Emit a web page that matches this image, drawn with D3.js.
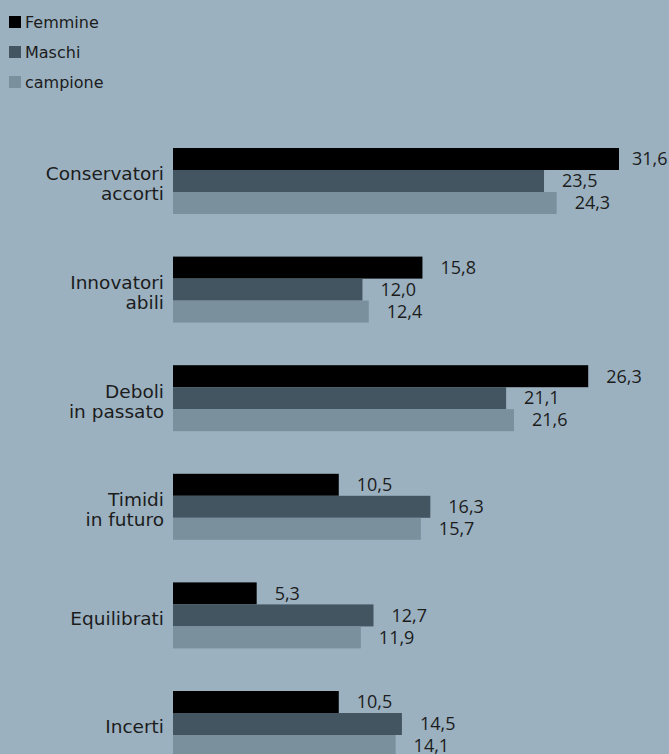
<!DOCTYPE html>
<html>
  <head>
    <meta charset="utf-8">
    <script src="https://d3js.org/d3.v7.min.js"></script>
    <style>
    html, body { margin: 0; padding: 0; background: #9bb1c0; }
    svg { display: block; font-family: "DejaVu Sans", sans-serif; }
    .lab { fill: #1c1c1c; }
    .val { fill: #1c1c1c; font-family: "Open Sans", sans-serif; font-size: 18px; }
    </style>
  </head>
  <body>
    <script>

        var categories = [["Conservatori", "accorti"], ["Innovatori", "abili"], ["Deboli", "in passato"],
                          ["Timidi", "in futuro"], ["Equilibrati"], ["Incerti"]];
        var series = ["Femmine", "Maschi", "campione"];
        var femmine  = [31.6, 15.8, 26.3, 10.5, 5.3, 10.5];
        var maschi   = [23.5, 12.0, 21.1, 16.3, 12.7, 14.5];
        var campione = [24.3, 12.4, 21.6, 15.7, 11.9, 14.1];
        var colors = ["#000000", "#435561", "#7b909d"];

        var width = 669,
            height = 754;

        var svg = d3.select("body").append("svg")
            .attr("width", width)
            .attr("height", height);

        var values = [femmine, maschi, campione];
        var fmt = function (v) { return d3.format(".1f")(v).replace(".", ","); };

        // scale is clamped: the longest bar stops short of the edge
        var x = d3.scaleLinear().domain([0, 28.25]).range([173, 619]).clamp(true);
        var step = 108.6, band = 66;
        var y0 = d3.scaleBand().domain(d3.range(categories.length))
            .range([148, 148 + step * (categories.length - 1) + band])
            .paddingInner(1 - band / step).paddingOuter(0);
        var y1 = d3.scaleBand().domain(d3.range(series.length)).range([0, y0.bandwidth()]);

        // legend
        var legend = svg.append("g").selectAll("g").data(series).enter().append("g")
            .attr("transform", function (d, i) { return "translate(9," + (16 + i * 30) + ")"; });
        legend.append("rect").attr("width", 12).attr("height", 12)
            .attr("fill", function (d, i) { return colors[i]; });
        legend.append("text").attr("class", "lab")
            .attr("x", 16).attr("y", 6).attr("dy", "0.35em")
            .style("font-size", "16px")
            .text(function (d) { return d; });

        var groups = svg.append("g").selectAll("g").data(categories).enter().append("g")
            .attr("transform", function (d, i) { return "translate(0," + y0(i) + ")"; });

        groups.each(function (cat, ci) {
            var g = d3.select(this);
            series.forEach(function (s, si) {
                var v = values[si][ci];
                g.append("rect")
                    .attr("x", x(0))
                    .attr("y", y1(si))
                    .attr("width", x(v) - x(0))
                    .attr("height", y1.bandwidth())
                    .attr("fill", colors[si]);
                g.append("text").attr("class", "val")
                    .attr("x", Math.min(x(v) + 18, 632))
                    .attr("y", y1(si) + y1.bandwidth() / 2)
                    .attr("dy", "0.35em")
                    .text(fmt(v));
            });
            var mid = y0.bandwidth() / 2;
            var t = g.append("text").attr("class", "lab")
                .attr("text-anchor", "end")
                .style("font-size", "18.5px");
            cat.forEach(function (line, li) {
                t.append("tspan")
                    .attr("x", 164)
                    .attr("y", mid + (li - (cat.length - 1) / 2) * 20 + 3)
                    .attr("dy", "0.35em")
                    .text(line);
            });
        });

    </script>
  </body>
</html>
